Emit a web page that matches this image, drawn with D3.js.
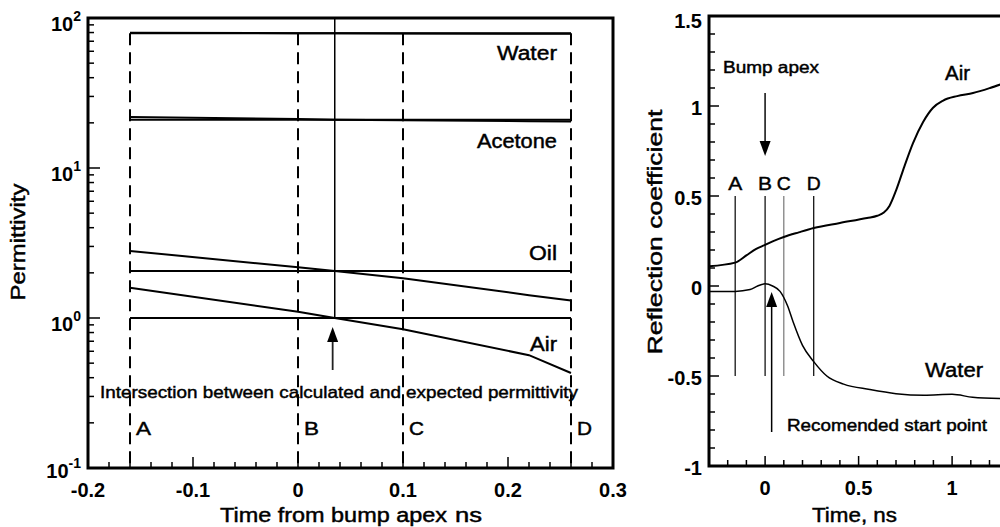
<!DOCTYPE html>
<html>
<head>
<meta charset="utf-8">
<script src="https://cdn.jsdelivr.net/npm/d3@7"></script>
<style>
  body { margin: 0; background: #fff; }
  svg { display: block; }
  text { font-family: "Liberation Sans", Arial, Helvetica, sans-serif; fill: #000; }
  text.reg { stroke: #000; stroke-width: 0.45; }
</style>
</head>
<body>
<svg width="1000" height="527"></svg>
<script>
// ---- shared markers (times in ns relative to the bump apex) ----
const markerTimes = [-0.16, 0, 0.1, 0.26];
const markerLabels = ["A", "B", "C", "D"];
const intersectionTime = 0.035;

// ---- left panel: calculated vs expected permittivity ----
const permTime = [-0.16, 0, 0.035, 0.1, 0.22, 0.26];
const waterCalc = [79.6, 79.2, 79.0, 78.9, 78.6, 78.5];
const acetoneCalc = [21.9, 21.2, 21.0, 20.8, 20.5, 20.4];
const oilCalc = [2.80, 2.18, 2.06, 1.84, 1.42, 1.31];
const airCalc = [1.59, 1.10, 1.00, 0.84, 0.565, 0.43];
const expectedNames = ["Water", "Acetone", "Oil", "Air"];
const expectedValues = [79, 21, 2.06, 1.0];
const permXTicks = ["-0.2", "-0.1", "0", "0.1", "0.2", "0.3"];
const permYExponents = [-1, 0, 1, 2];

// ---- right panel: reflection coefficient traces ----
const airTime = [-0.3, -0.16, -0.1, -0.05, 0, 0.05, 0.1, 0.18, 0.26, 0.4, 0.545, 0.6, 0.635, 0.665, 0.7, 0.745, 0.791, 0.845, 0.898, 0.952, 1.027, 1.112, 1.203, 1.26];
const airReflection = [0.11, 0.13, 0.17, 0.205, 0.228, 0.252, 0.272, 0.298, 0.322, 0.35, 0.378, 0.39, 0.408, 0.445, 0.53, 0.665, 0.794, 0.911, 0.99, 1.03, 1.055, 1.072, 1.10, 1.12];
const waterTime = [-0.3, -0.16, -0.08, -0.04, 0, 0.04, 0.08, 0.12, 0.15, 0.2, 0.26, 0.33, 0.42, 0.56, 0.7, 0.85, 1.0, 1.11, 1.26];
const waterReflection = [-0.03, -0.03, -0.02, 0.0, 0.012, 0.0, -0.03, -0.11, -0.2, -0.33, -0.42, -0.5, -0.545, -0.575, -0.598, -0.607, -0.602, -0.618, -0.625];
const reflYTicks = ["-1", "-0.5", "0", "0.5", "1", "1.5"];
const reflXTicks = ["0", "0.5", "1"];
const markerLineTop = 0.5, markerLineBottom = -0.5;

const svg = d3.select("svg");
const fit = (sel, w) => sel.attr("textLength", w).attr("lengthAdjust", "spacingAndGlyphs");

// ================= LEFT PANEL =================
const xL = d3.scaleLinear().domain([-0.2, 0.3]).range([88, 613]);
const yL = d3.scaleLog().domain([0.1, 100]).range([468, 18]);
const L = svg.append("g");

// minor/major ticks (pointing inward)
xL.ticks(25).forEach(t => {
  const major = Math.abs(Math.round(t * 10) - t * 10) < 1e-6;
  L.append("line").attr("x1", xL(t)).attr("x2", xL(t))
    .attr("y1", yL(0.1)).attr("y2", yL(0.1) - (major ? 11 : 6))
    .attr("stroke", "#000").attr("stroke-width", 1.5);
});
yL.ticks().forEach(v => {
  const major = Math.abs(Math.log10(v) - Math.round(Math.log10(v))) < 1e-6;
  L.append("line").attr("x1", xL(-0.2)).attr("x2", xL(-0.2) + (major ? 12 : 6))
    .attr("y1", yL(v)).attr("y2", yL(v))
    .attr("stroke", "#000").attr("stroke-width", 1.5);
});

// frame
L.append("rect").attr("x", xL(-0.2)).attr("y", yL(100))
  .attr("width", xL(0.3) - xL(-0.2)).attr("height", yL(0.1) - yL(100))
  .attr("fill", "none").attr("stroke", "#000").attr("stroke-width", 3);

// tick labels
permXTicks.forEach(s => {
  L.append("text").attr("x", xL(+s)).attr("y", 497).attr("text-anchor", "middle")
    .attr("font-size", 20).attr("font-weight", "bold").text(s);
});
permYExponents.forEach(e => {
  const t = L.append("text").attr("x", 81).attr("y", yL(Math.pow(10, e)) + (e === -1 ? 10 : 13))
    .attr("text-anchor", "end").attr("font-weight", "bold");
  t.append("tspan").attr("font-size", 20).text("10");
  t.append("tspan").attr("font-size", 14).attr("dy", -10).text(String(e));
});

// dashed marker lines
markerTimes.forEach((t, i) => {
  L.append("line").attr("x1", xL(t)).attr("x2", xL(t))
    .attr("y1", yL(expectedValues[0])).attr("y2", yL(0.1))
    .attr("stroke", "#000").attr("stroke-width", 2).attr("stroke-dasharray", "12,7");
  fit(L.append("text").attr("class", "reg").attr("x", xL(t) + 6).attr("y", 435)
    .attr("font-size", 19).text(markerLabels[i]), 15);
});

// expected permittivity (horizontal lines)
expectedValues.forEach(v => {
  L.append("line").attr("x1", xL(markerTimes[0])).attr("x2", xL(markerTimes[3]))
    .attr("y1", yL(v)).attr("y2", yL(v))
    .attr("stroke", "#000").attr("stroke-width", 2);
});

// calculated permittivity
const lineL = d3.line().x(d => xL(d[0])).y(d => yL(d[1]));
[waterCalc, acetoneCalc, oilCalc, airCalc].forEach(s => {
  L.append("path").attr("d", lineL(d3.zip(permTime, s)))
    .attr("fill", "none").attr("stroke", "#000").attr("stroke-width", 2);
});

// vertical line through the intersection
L.append("line").attr("x1", xL(intersectionTime)).attr("x2", xL(intersectionTime))
  .attr("y1", yL(100)).attr("y2", yL(expectedValues[3]))
  .attr("stroke", "#000").attr("stroke-width", 1.5);

// series labels
const labelOffsets = [27, 28, -11, 33];
const labelWidths = [60, 80, 28, 27];
expectedNames.forEach((n, i) => {
  fit(L.append("text").attr("class", "reg").attr("x", 557).attr("y", yL(expectedValues[i]) + labelOffsets[i])
    .attr("text-anchor", "end").attr("font-size", 20).text(n), labelWidths[i]);
});

// intersection arrow + caption
const ax = xL(0.033);
L.append("line").attr("x1", ax).attr("x2", ax).attr("y1", 370).attr("y2", 340)
  .attr("stroke", "#222").attr("stroke-width", 1.8);
L.append("path").attr("d", `M${ax},327 L${ax - 5.5},342 L${ax + 5.5},342 Z`).attr("fill", "#000");
fit(L.append("text").attr("class", "reg").attr("x", 100).attr("y", 398).attr("font-size", 17)
  .text("Intersection between calculated and expected permittivity"), 478);

// axis titles
fit(L.append("text").attr("class", "reg").attr("transform", "translate(25,242) rotate(-90)")
  .attr("text-anchor", "middle").attr("font-size", 20).text("Permittivity"), 117);
fit(L.append("text").attr("class", "reg").attr("x", 220).attr("y", 522).attr("font-size", 20).text("Time from bump apex"), 227);
fit(L.append("text").attr("class", "reg").attr("x", 455).attr("y", 522).attr("font-size", 20).text("ns"), 27);

// ================= RIGHT PANEL =================
const xR = d3.scaleLinear().domain([-0.3, 1.5]).range([709, 1045.6]);
const yR = d3.scaleLinear().domain([-1, 1.5]).range([466, 16]);
const R = svg.append("g");

xR.ticks(18).forEach(t => {
  const major = Math.abs(Math.round(t * 2) - t * 2) < 1e-6;
  R.append("line").attr("x1", xR(t)).attr("x2", xR(t))
    .attr("y1", yR(-1)).attr("y2", yR(-1) - (major ? 10 : 6))
    .attr("stroke", "#000").attr("stroke-width", 1.5);
});
yR.ticks(25).forEach(v => {
  const major = Math.abs(Math.round(v * 2) - v * 2) < 1e-6;
  R.append("line").attr("x1", xR(-0.3)).attr("x2", xR(-0.3) + (major ? 10 : 6))
    .attr("y1", yR(v)).attr("y2", yR(v))
    .attr("stroke", "#000").attr("stroke-width", 1.5);
});

// frame: left, bottom and top edges (right edge lies beyond the page)
R.append("path")
  .attr("d", `M${xR(1.5)},${yR(1.5)} L${xR(-0.3)},${yR(1.5)} L${xR(-0.3)},${yR(-1)} L${xR(1.5)},${yR(-1)}`)
  .attr("fill", "none").attr("stroke", "#000").attr("stroke-width", 3);

reflYTicks.forEach(s => {
  R.append("text").attr("x", 702).attr("y", yR(+s) + (s === "1.5" ? 12 : 9))
    .attr("text-anchor", "end").attr("font-size", 20).attr("font-weight", "bold").text(s);
});
reflXTicks.forEach(s => {
  R.append("text").attr("x", xR(+s)).attr("y", 495).attr("text-anchor", "middle")
    .attr("font-size", 20).attr("font-weight", "bold").text(s);
});

// A-D marker lines
markerTimes.forEach((t, i) => {
  R.append("line").attr("x1", xR(t)).attr("x2", xR(t))
    .attr("y1", yR(markerLineTop)).attr("y2", yR(markerLineBottom))
    .attr("stroke", i === 2 ? "#777" : "#000").attr("stroke-width", 1.2);
  fit(R.append("text").attr("class", "reg").attr("x", xR(t)).attr("y", 190).attr("text-anchor", "middle")
    .attr("font-size", 19).text(markerLabels[i]), 14);
});

// traces
const lineR = d3.line().curve(d3.curveMonotoneX).x(d => xR(d[0])).y(d => yR(d[1]));
R.append("path").attr("d", lineR(d3.zip(airTime, airReflection)))
  .attr("fill", "none").attr("stroke", "#000").attr("stroke-width", 2);
R.append("path").attr("d", lineR(d3.zip(waterTime, waterReflection)))
  .attr("fill", "none").attr("stroke", "#000").attr("stroke-width", 1.5);

// annotations
fit(R.append("text").attr("class", "reg").attr("x", 945).attr("y", 80).attr("font-size", 20).text("Air"), 25);
fit(R.append("text").attr("class", "reg").attr("x", 925).attr("y", 377).attr("font-size", 20).text("Water"), 58);
fit(R.append("text").attr("class", "reg").attr("x", 723).attr("y", 73).attr("font-size", 16).text("Bump apex"), 96);
fit(R.append("text").attr("class", "reg").attr("x", 787).attr("y", 431).attr("font-size", 16).text("Recomended start point"), 200);

const bx = xR(0);
R.append("line").attr("x1", bx).attr("x2", bx).attr("y1", 93).attr("y2", 143)
  .attr("stroke", "#333").attr("stroke-width", 1.8);
R.append("path").attr("d", `M${bx},156 L${bx - 5.5},141 L${bx + 5.5},141 Z`).attr("fill", "#000");

const rx = xR(intersectionTime);
R.append("line").attr("x1", rx).attr("x2", rx).attr("y1", 432).attr("y2", 303)
  .attr("stroke", "#000").attr("stroke-width", 1.5);
R.append("path").attr("d", `M${rx},292 L${rx - 5.5},307 L${rx + 5.5},307 Z`).attr("fill", "#000");

// axis titles
fit(R.append("text").attr("class", "reg").attr("transform", "translate(662,232) rotate(-90)")
  .attr("text-anchor", "middle").attr("font-size", 20).text("Reflection coefficient"), 245);
fit(R.append("text").attr("class", "reg").attr("x", 812).attr("y", 522).attr("font-size", 20).text("Time, ns"), 85);
</script>
</body>
</html>
